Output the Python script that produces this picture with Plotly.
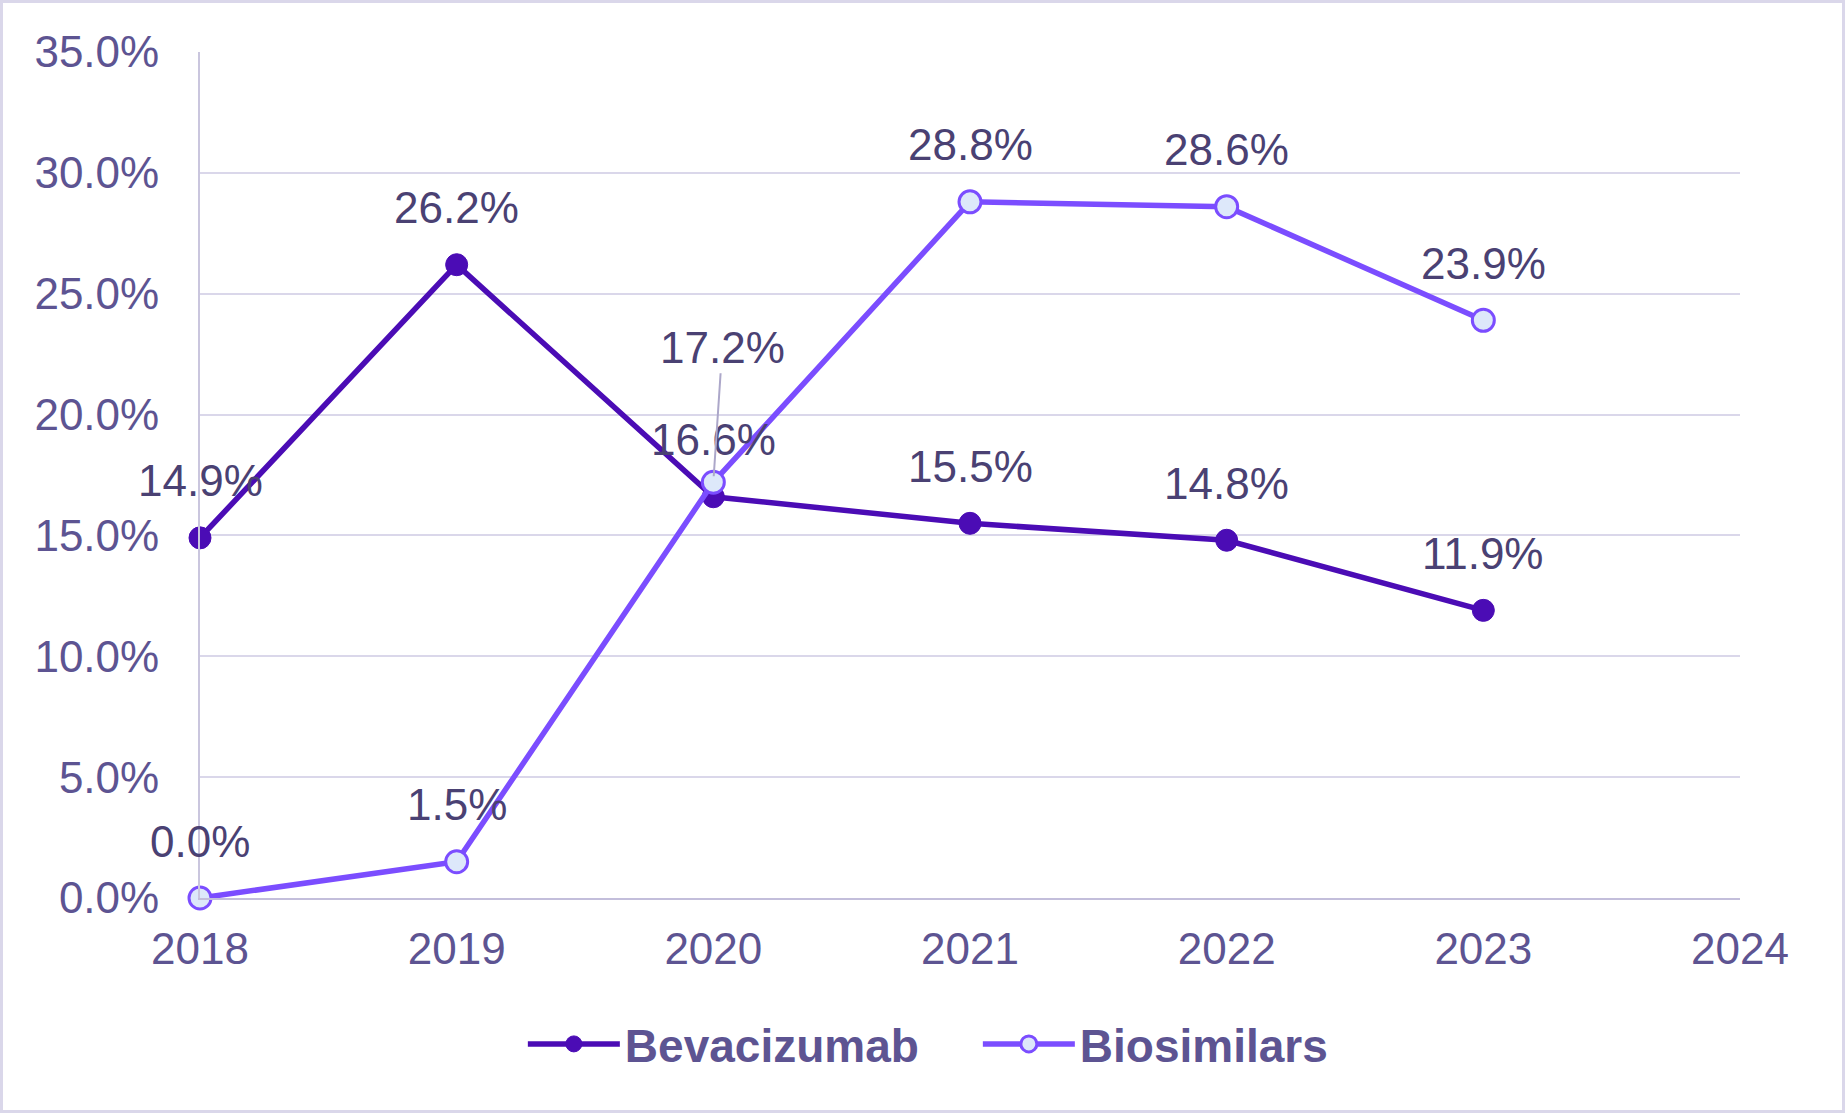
import plotly.graph_objects as go

years = [2018, 2019, 2020, 2021, 2022, 2023]
bevacizumab = [14.9, 26.2, 16.6, 15.5, 14.8, 11.9]
biosimilars = [0.0, 1.5, 17.2, 28.8, 28.6, 23.9]
y_ticks = [0, 5, 10, 15, 20, 25, 30, 35]
x_ticks = [2018, 2019, 2020, 2021, 2022, 2023, 2024]

FONT = "Liberation Sans, Arial, sans-serif"
TICK_COLOR = "#5d5492"
LABEL_COLOR = "#4a4173"
DARK = "#4b0cb5"
LIGHT = "#7b4dff"

fig = go.Figure()

fig.add_trace(
    go.Scatter(
        x=years, y=bevacizumab, name="Bevacizumab", mode="lines+markers",
        line=dict(color=DARK, width=5.5), cliponaxis=False,
        marker=dict(size=22, color=DARK, line=dict(color=DARK, width=1)),
    )
)
fig.add_trace(
    go.Scatter(
        x=years, y=biosimilars, name="Biosimilars", mode="lines+markers",
        line=dict(color=LIGHT, width=5.5), cliponaxis=False,
        marker=dict(size=22, color="#dde8fa", line=dict(color=LIGHT, width=3)),
    )
)

# data labels, all above the points except 17.2% which sits higher with a leader line
annotations = []
for series in (bevacizumab, biosimilars):
    for x, v in zip(years, series):
        label = dict(
            x=x, y=v, text=f"{v:.1f}%", xref="x", yref="y",
            font=dict(family=FONT, size=44, color=LABEL_COLOR),
        )
        if series is biosimilars and x == 2020:
            label.update(showarrow=True, ax=9, ay=-135, arrowhead=0,
                         arrowwidth=2, arrowcolor="#aca7c9", standoff=6)
        else:
            label.update(showarrow=False, yanchor="middle", yshift=57)
        annotations.append(label)

pw, ph = 1540, 846
fig.add_shape(
    type="rect", xref="paper", yref="paper",
    x0=-198.5 / pw, x1=1643.5 / pw, y0=-213.5 / ph, y1=896.5 / ph,
    line=dict(color="#dad7ea", width=3), layer="below",
)

fig.update_layout(
    width=1845,
    height=1113,
    margin=dict(l=200, r=105, t=52, b=215),
    paper_bgcolor="white",
    plot_bgcolor="white",
    font=dict(family=FONT, size=44, color=TICK_COLOR),
    annotations=annotations,
    showlegend=True,
    legend=dict(
        orientation="h", xref="container", yref="container",
        x=0.530, xanchor="center", y=0.062, yanchor="middle",
        font=dict(family=FONT, size=46, color=TICK_COLOR, weight="bold"),
        itemwidth=92, tracegroupgap=0, entrywidth=348,
    ),
    xaxis=dict(
        range=[2018, 2024], tickvals=x_ticks, showgrid=False,
        showline=True, linecolor="#c3bedb", linewidth=2,
        ticks="", ticklabelstandoff=11,
        tickfont=dict(family=FONT, size=44, color=TICK_COLOR),
        zeroline=False,
    ),
    yaxis=dict(
        range=[0, 35], tickvals=y_ticks, ticktext=[f"{v:.1f}%" for v in y_ticks],
        showgrid=True, gridcolor="#dad7ea", gridwidth=2,
        showline=True, linecolor="#cac6de", linewidth=2,
        ticks="", ticklabelstandoff=30, zeroline=False,
        tickfont=dict(family=FONT, size=44, color=TICK_COLOR),
    ),
)

fig.write_html(
    "out.html",
    config={"displayModeBar": False},
    post_script="document.body.style.margin='0';",
)
